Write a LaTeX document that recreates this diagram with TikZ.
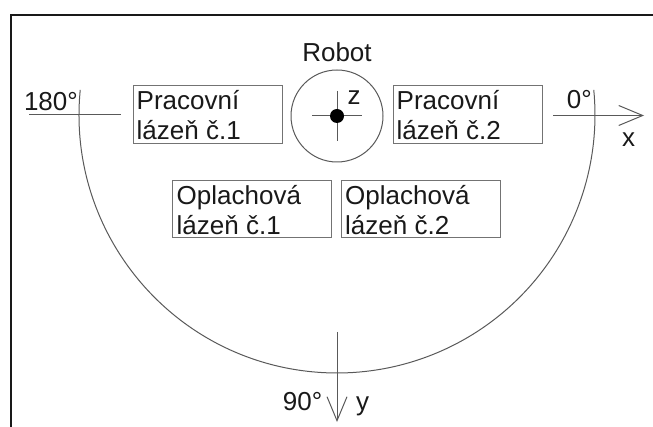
\documentclass[tikz,border=0pt]{standalone}
\usepackage{fontspec}
\setmainfont{Liberation Sans}
\usetikzlibrary{arrows.meta}
\begin{document}
\begin{tikzpicture}[x=1pt,y=-1pt,
  line/.style={draw=black!65,line width=1pt},
  frame/.style={draw=black!90,line width=2pt},
  box/.style={draw=black!55,line width=1pt,rectangle,inner sep=0pt},
  lbl/.style={inner sep=0pt,font=\fontsize{26}{30}\selectfont,text=black!90},
  arr/.style={-{Straight Barb[length=24pt,width=20pt,line width=1pt]}}
]
\useasboundingbox (0,0) rectangle (653,427);
% frame
\coordinate (fa) at (653,15);
\coordinate (fb) at (10.7,15);
\coordinate (fc) at (10.7,427);
\draw[frame] (fa) -- (fb) -- (fc);
% robot
\node[lbl,anchor=base] (robotlbl) at (337,61.7) {Robot};
\node[circle,draw=black!65,line width=1pt,minimum size=92pt,inner sep=0pt] (robot) at (337,116) {};
\draw[line] ([xshift=-25pt]robot.center) -- ([xshift=25pt]robot.center);
\draw[line] ([yshift=25pt]robot.center) -- ([yshift=-25pt]robot.center);
\fill[black] (robot.center) circle (7);
\node[lbl,anchor=base] (zlbl) at (354,105) {z};
% boxes
\node[box,minimum width=149pt,minimum height=58pt] (p1) at (207.5,115) {};
\node[box,minimum width=149pt,minimum height=58pt] (p2) at (467.5,115) {};
\node[box,minimum width=159.3pt,minimum height=57pt] (o1) at (252.3,209.5) {};
\node[box,minimum width=159pt,minimum height=57pt] (o2) at (421.2,209.5) {};
\node[lbl,anchor=base west] (p1a) at (136.5,110) {Pracovní};
\node[lbl,anchor=base west] (p1b) at (136.5,140) {lázeň č.1};
\node[lbl,anchor=base west] (p2a) at (396.5,110) {Pracovní};
\node[lbl,anchor=base west] (p2b) at (396.5,140) {lázeň č.2};
\node[lbl,anchor=base west] (o1a) at (176.5,205) {Oplachová};
\node[lbl,anchor=base west] (o1b) at (176.5,235) {lázeň č.1};
\node[lbl,anchor=base west] (o2a) at (345,205) {Oplachová};
\node[lbl,anchor=base west] (o2b) at (345,235) {lázeň č.2};
% axes
\coordinate (ls) at (29,115);
\coordinate (le) at (121,115);
\draw[line] (ls) -- (le);
\node[lbl,anchor=base east] (a180) at (78,111) {180°};
\coordinate (rs) at (553,115.5);
\coordinate (re) at (644,115.5);
\draw[line,arr] (rs) -- (re);
\node[lbl,anchor=base east] (a0) at (592,109) {0°};
\node[lbl,anchor=base] (xlbl) at (628.5,147) {x};
\coordinate (vs) at (337,332);
\coordinate (ve) at (337,422);
\draw[line,arr] (vs) -- (ve);
\node[lbl,anchor=base east] (a90) at (322.5,410) {90°};
\node[lbl,anchor=base west] (ylbl) at (356,410) {y};
% arc
\coordinate (arcstart) at ({337+258*cos(185.6)},{115+258*sin(185.6)});
\draw[line] (arcstart) arc[start angle=185.6,end angle=-5.6,radius=258];
\end{tikzpicture}
\end{document}
